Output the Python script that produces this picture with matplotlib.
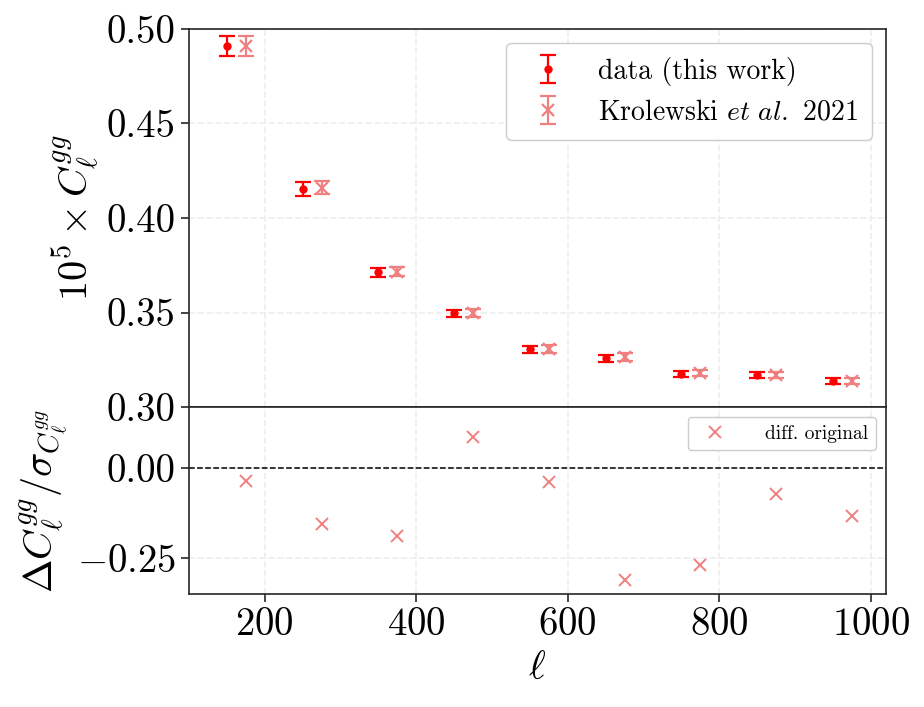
import numpy as np
import matplotlib
matplotlib.use("Agg")
import matplotlib.pyplot as plt

plt.rcParams['font.family'] = 'serif'
plt.rcParams['font.serif'] = ['cmr10']
plt.rcParams['mathtext.fontset'] = 'cm'
plt.rcParams['axes.formatter.use_mathtext'] = True

# Data
ell_data = [150, 250, 350, 450, 550, 650, 750, 850, 950]
ell_krol = [175, 275, 375, 475, 575, 675, 775, 875, 975]
cl_data = [0.4910, 0.4153, 0.3712, 0.3495, 0.3305, 0.3258, 0.3175, 0.3168, 0.3136]
err_data = [0.0053, 0.0035, 0.0024, 0.0020, 0.0019, 0.0019, 0.0017, 0.0017, 0.0016]
cl_krol = [0.4912, 0.4160, 0.3715, 0.3497, 0.3307, 0.3265, 0.3181, 0.3170, 0.3139]
err_krol = [0.0053, 0.0035, 0.0024, 0.0020, 0.0019, 0.0019, 0.0017, 0.0017, 0.0016]
diff = [-0.035, -0.154, -0.189, 0.088, -0.038, -0.311, -0.270, -0.071, -0.132]

fig = plt.figure(figsize=(9.24, 7.07), dpi=100)
ax1 = fig.add_axes([0.2045, 0.4243, 0.7543, 0.5347])
ax2 = fig.add_axes([0.2045, 0.1598, 0.7543, 0.2645], sharex=ax1)

spine_col = '#262626'
for ax in (ax1, ax2):
    for s in ax.spines.values():
        s.set_color(spine_col)
        s.set_linewidth(1.2)
    ax.grid(True, color='#ededed', linestyle='--', linewidth=1.2)
    ax.set_axisbelow(True)
    ax.tick_params(axis='both', labelsize=28, length=6, width=1.2, color=spine_col, direction='out')

ax1.errorbar(ell_data, cl_data, yerr=err_data, fmt='o', color='red', ms=5,
             capsize=6, elinewidth=1.6, capthick=1.6, label='data (this work)')
ax1.errorbar(ell_krol, cl_krol, yerr=err_krol, fmt='x', color='lightcoral', ms=9, mew=1.6,
             capsize=6, elinewidth=1.6, capthick=1.6, label=r'Krolewski $\mathit{et\ al.}$ 2021')
ax1.set_ylim(0.30, 0.50)
ax1.set_yticks([0.30, 0.35, 0.40, 0.45, 0.50])
ax1.set_yticklabels(['0.30', '0.35', '0.40', '0.45', '0.50'])
ax1.set_xlim(100, 1020)
ax1.tick_params(axis='x', bottom=False, labelbottom=False)
ax1.set_ylabel(r'$10^5 \times C_\ell^{gg}$', fontsize=29)
ax1.legend(loc='upper right', fontsize=20, framealpha=1, edgecolor='#cccccc',
           handletextpad=0.8, borderpad=0.5)

ax2.plot(ell_krol, diff, 'x', color='lightcoral', ms=9, mew=1.4, label='diff. original')
ax2.axhline(0, color='black', linestyle='--', linewidth=1.1)
ax2.set_ylim(-0.35, 0.17)
ax2.set_yticks([-0.25, 0.0])
ax2.set_yticklabels([r'$-0.25$', '0.00'])
ax2.set_xticks([200, 400, 600, 800, 1000])
ax2.set_xlabel(r'$\ell$', fontsize=29, labelpad=6)
ax2.set_ylabel(r'$\Delta C_\ell^{gg}/\sigma_{C_\ell^{gg}}$', fontsize=29)
ax2.legend(loc='upper right', fontsize=14, framealpha=1, edgecolor='#cccccc',
           handletextpad=1.6)

fig.savefig('out.png', dpi=100)
